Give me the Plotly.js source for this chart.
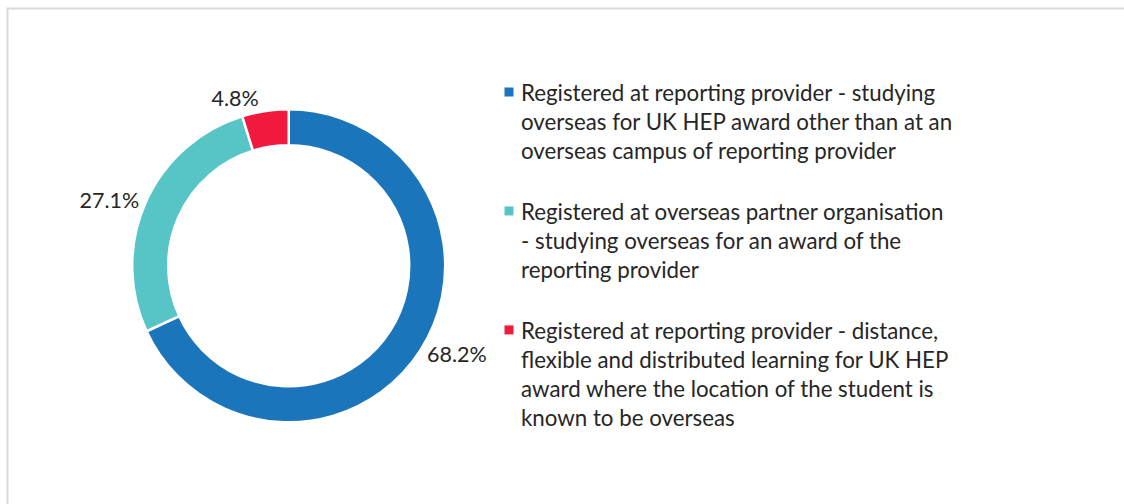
<!DOCTYPE html>
<html>
<head>
<meta charset="utf-8">
<script src="https://cdn.plot.ly/plotly-3.0.1.min.js"></script>
<style>
  html, body { margin: 0; padding: 0; background: #ffffff; }
  #chart { width: 1124px; height: 504px; }
</style>
</head>
<body>
<div id="chart"></div>
<script>
// Data
const categories = [
  "Registered at reporting provider - studying<br>overseas for UK HEP award other than at an<br>overseas campus of reporting provider<br> ",
  "Registered at overseas partner organisation<br>- studying overseas for an award of the<br>reporting provider<br> ",
  "Registered at reporting provider - distance,<br>flexible and distributed learning for UK HEP<br>award where the location of the student is<br>known to be overseas"
];
const shares = [68.2, 27.1, 4.8];
const sliceColors = ["#1B75BB", "#57C5C6", "#EF1A3D"];

const W = 1124, H = 504;
const cx = 288.7, cy = 265.8, R = 156.5;

const trace = {
  type: "pie",
  labels: categories,
  values: shares,
  sort: false,
  direction: "clockwise",
  rotation: 0,
  hole: 0.77,
  marker: { colors: sliceColors, line: { color: "#ffffff", width: 2.5 } },
  texttemplate: "%{value:.1f}%",
  textposition: "outside",
  outsidetextfont: { family: "Lato, sans-serif", size: 21.5, color: "#262626" },
  domain: { x: [(cx - R) / W, (cx + R) / W], y: [1 - (cy + R) / H, 1 - (cy - R) / H] },
  hoverinfo: "label+value"
};

const layout = {
  width: W, height: H,
  margin: { l: 0, r: 0, t: 0, b: 0 },
  paper_bgcolor: "#ffffff",
  showlegend: true,
  legend: {
    x: 481 / W, xanchor: "left",
    y: 1 - 71 / H, yanchor: "top",
    valign: "top",
    font: { family: "Lato, sans-serif", size: 22.3, color: "#262626" },
    bgcolor: "rgba(0,0,0,0)",
    itemclick: false, itemdoubleclick: false
  },
  shapes: [
    { type: "rect", xref: "paper", yref: "paper",
      x0: 7.5 / W, x1: 1.05, y0: -0.05, y1: 1 - 8.5 / H,
      line: { color: "#D9D9D9", width: 2 }, fillcolor: "rgba(0,0,0,0)", layer: "below" }
  ]
};

Plotly.newPlot("chart", [trace], layout, { displayModeBar: false, staticPlot: true }).then(function (gd) {
  // smaller legend squares placed close to the text, as in the reference
  gd.querySelectorAll(".legend .legendpoints path").forEach(function (p) {
    p.setAttribute("d", "M12.5,4.5H3.5V-4.5H12.5Z");
    p.style.strokeWidth = "0px";
  });
});
</script>
</body>
</html>
